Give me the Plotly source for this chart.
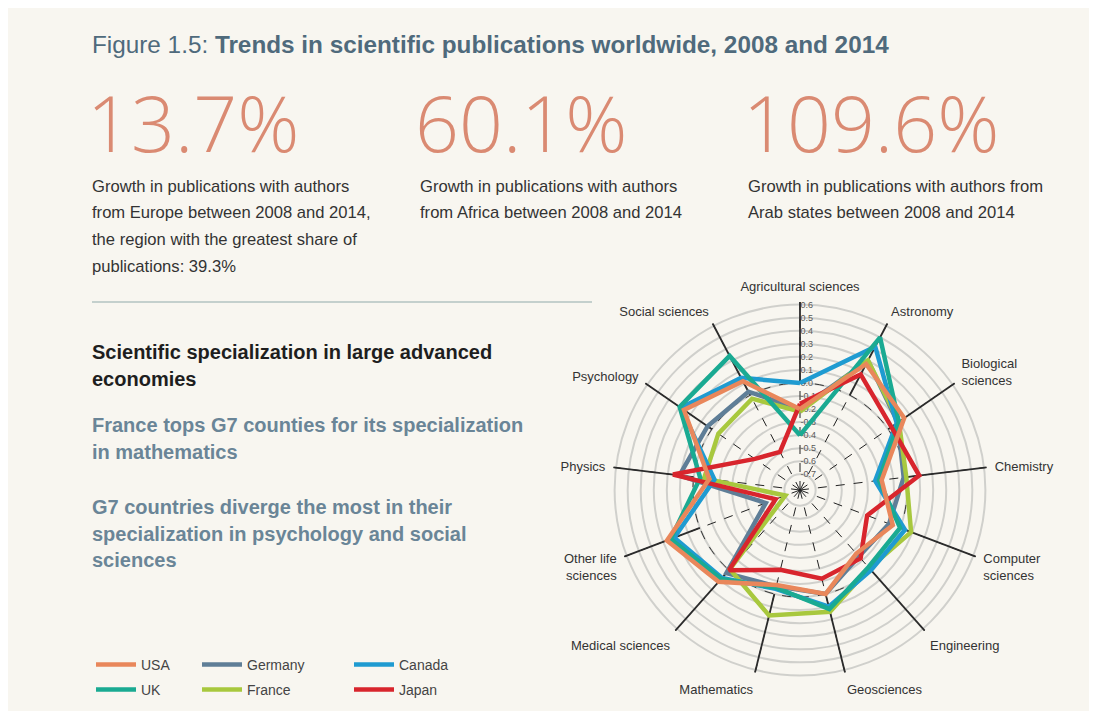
import plotly.graph_objects as go

categories = ['Agricultural sciences', 'Astronomy', 'Biological<br>sciences', 'Chemistry',
              'Computer<br>sciences', 'Engineering', 'Geosciences', 'Mathematics',
              'Medical sciences', 'Other life<br>sciences', 'Physics', 'Psychology',
              'Social sciences']

usa = [-0.20, 0.27, 0.15, -0.19, -0.06, -0.17, 0.00, -0.07, 0.12, 0.27, -0.12, 0.26, 0.12]
uk = [-0.40, 0.50, 0.10, -0.21, 0.00, -0.03, 0.12, -0.05, 0.09, 0.24, -0.05, 0.30, 0.34]
germany = [-0.20, 0.30, 0.09, -0.02, -0.09, -0.14, 0.00, -0.06, 0.03, -0.54, 0.11, 0.04, 0.03]
france = [-0.22, 0.30, 0.10, 0.00, 0.09, -0.02, 0.14, 0.17, -0.01, -0.70, -0.08, -0.06, -0.03]
canada = [0.00, 0.42, 0.08, -0.24, 0.04, 0.00, 0.10, -0.04, 0.08, 0.21, -0.16, 0.29, 0.15]
japan = [-0.16, 0.18, 0.03, 0.10, -0.27, -0.12, -0.12, -0.19, 0.00, -0.62, 0.16, -0.40, -0.49]

radial_ticks = [0.6, 0.5, 0.4, 0.3, 0.2, 0.1, 0.0, -0.1, -0.2, -0.3, -0.4, -0.5, -0.6, -0.7]
r_range = [-0.82, 0.62]

W, H = 1097, 711
OFF = 8  # the page sits 8px in from the window edge

# (name, values, colour, legend slot) - drawn in this order, USA last so it sits on top
series = [
    ('Germany', germany, '#5f7e97', 'legend2'),
    ('France', france, '#a8c83e', 'legend5'),
    ('Canada', canada, '#1f9bd1', 'legend3'),
    ('UK', uk, '#1aaa92', 'legend4'),
    ('Japan', japan, '#d8252d', 'legend6'),
    ('USA', usa, '#e9875b', 'legend'),
]
# legend slot -> screen position of the swatch (x of line start, y of row)
legend_pos = {'legend': (97, 665), 'legend2': (203, 665), 'legend3': (355, 665),
              'legend4': (97, 690), 'legend5': (203, 690), 'legend6': (355, 690)}

BG = '#f8f6f0'
NARROW = 'Liberation Sans Narrow, Arial Narrow, Liberation Sans, sans-serif'
BODY = 'Open Sans, Lato, sans-serif'


def px(x, y):
    return (x - OFF) / W, 1 - (y - OFF) / H


fig = go.Figure()

# dummy traces so the grid layers get drawn
fig.add_trace(go.Scatterpolar(r=[None], theta=[categories[0]], subplot='polar', showlegend=False, hoverinfo='skip'))
fig.add_trace(go.Scatterpolar(r=[None], theta=[categories[0]], subplot='polar2', showlegend=False, hoverinfo='skip'))

# solid outer parts of the spokes (inner parts are the dashed angular grid)
sp_r, sp_t = [], []
for c in categories:
    sp_r += [0, r_range[1], None]
    sp_t += [c, c, None]
fig.add_trace(go.Scatterpolar(r=sp_r, theta=sp_t, mode='lines', subplot='polar3',
                              line=dict(color='#2b2b2b', width=1.8), showlegend=False, hoverinfo='skip'))

for name, vals, col, lg in series:
    fig.add_trace(go.Scatterpolar(
        r=vals + vals[:1], theta=categories + categories[:1], mode='lines', name=name,
        subplot='polar3', line=dict(color=col, width=4.5), legend=lg))

cx, cy, rad = 800, 490, 188
x0, y1 = px(cx - rad, cy - rad)
x1, y0 = px(cx + rad, cy + rad)
dom = dict(x=[x0, x1], y=[y0, y1])
common_ang = dict(categoryorder='array', categoryarray=categories, rotation=90, direction='clockwise')

legends = {}
for key, (lx, ly) in legend_pos.items():
    xx, yy = px(lx - 6, ly)
    legends[key] = dict(x=xx, y=yy, xanchor='left', yanchor='middle', itemwidth=40,
                        bgcolor='rgba(0,0,0,0)', borderwidth=0,
                        font=dict(family=NARROW, size=14, color='#444444'))

fig.update_layout(
    width=W, height=H,
    paper_bgcolor=BG, plot_bgcolor=BG,
    margin=dict(l=0, r=0, t=0, b=0),
    polar=dict(
        domain=dom, bgcolor='rgba(0,0,0,0)',
        radialaxis=dict(range=r_range, angle=90, tickangle=90, tickvals=radial_ticks,
                        ticktext=[f'{t:.1f}' for t in radial_ticks],
                        tickfont=dict(family=NARROW, size=9, color='#5a5a5a'),
                        showline=False, ticks='', gridcolor='#d0d0cc', gridwidth=1.6),
        angularaxis=dict(showgrid=False, showline=False, ticks='outside', ticklen=5,
                         tickcolor='rgba(0,0,0,0)',
                         tickfont=dict(family=NARROW, size=13, color='#333333'), **common_ang),
    ),
    polar2=dict(
        domain=dom, bgcolor='rgba(0,0,0,0)',
        radialaxis=dict(range=r_range, tickvals=[0], showticklabels=False, showline=False, ticks='',
                        gridcolor='#333333', gridwidth=1, griddash='dash'),
        angularaxis=dict(showgrid=True, gridcolor='#222222', gridwidth=1.4, griddash='dash',
                         showline=False, ticks='', showticklabels=False, **common_ang),
    ),
    polar3=dict(
        domain=dom, bgcolor='rgba(0,0,0,0)',
        radialaxis=dict(range=r_range, visible=False),
        angularaxis=dict(showgrid=False, showline=False, ticks='', showticklabels=False, **common_ang),
    ),
    **legends,
)


def note(x, y, text, size, color, family=BODY, anchor='middle', weight=None):
    xx, yy = px(x, y)
    font = dict(family=family, size=size, color=color)
    if weight:
        font['weight'] = weight
    fig.add_annotation(x=xx, y=yy, xref='paper', yref='paper', text=text, showarrow=False,
                       xanchor='left', yanchor=anchor, align='left', font=font, xshift=-2)


note(92, 45, 'Figure 1.5: <b>Trends in scientific publications worldwide, 2008 and 2014</b>',
     24.3, '#4f6a7c', family=NARROW)

for x, big in [(87, '13.7%'), (415, '60.1%'), (743, '109.6%')]:
    note(x, 122, big, 77, '#da8a72', family=BODY, weight=300)

sub_lines = [
    (92, ['Growth in publications with authors', 'from Europe between 2008 and 2014,',
          'the region with the greatest share of', 'publications: 39.3%']),
    (420, ['Growth in publications with authors', 'from Africa between 2008 and 2014']),
    (748, ['Growth in publications with authors from', 'Arab states between 2008 and 2014']),
]
for x, lines in sub_lines:
    for i, ln in enumerate(lines):
        note(x, 186 + i * 26.7, ln, 16.6, '#333333', family=NARROW)

lx0, ly = px(92, 302)
lx1, _ = px(592, 302)
fig.add_shape(type='line', xref='paper', yref='paper', x0=lx0, x1=lx1, y0=ly, y1=ly,
              line=dict(color='#8fa9a9', width=1.2))

blocks = [
    (352, ['Scientific specialization in large advanced', 'economies'], '#1e1e1e'),
    (425, ['France tops G7 counties for its specialization', 'in mathematics'], '#6a8597'),
    (507, ['G7 countries diverge the most in their', 'specialization in psychology and social',
           'sciences'], '#6a8597'),
]
for y0_, lines, col in blocks:
    for i, ln in enumerate(lines):
        note(92, y0_ + i * 26.5, '<b>' + ln + '</b>', 20, col, family=NARROW)

fig.write_html('out.html')
